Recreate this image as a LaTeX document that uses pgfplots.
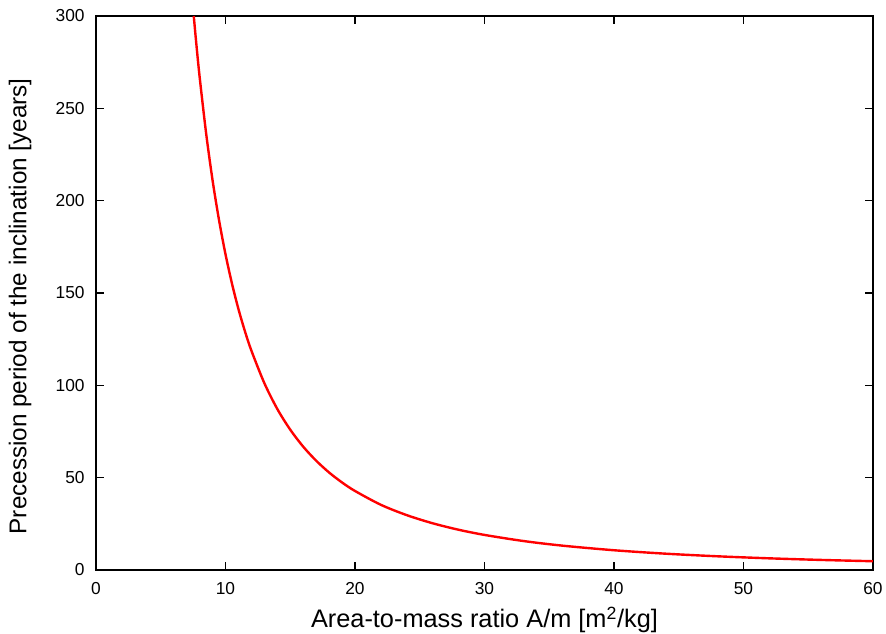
\documentclass[border=0pt]{standalone}
\usepackage{fontspec}
\setmainfont{Liberation Sans}
\usepackage{pgfplots}
\pgfplotsset{compat=1.18}
\begin{document}
\begin{tikzpicture}
\path[use as bounding box] (-72pt,-47.25pt) rectangle (592.5pt,427.5pt);
\begin{axis}[
  at={(0pt,0pt)}, anchor=south west,
  scale only axis, width=582.75pt, height=415.5pt,
  xmin=0, xmax=60, ymin=0, ymax=300,
  xtick={0,10,...,60}, ytick={0,50,...,300},
  tick align=inside, major tick length=6pt,
  axis line style={line width=0.9pt},
  every tick/.style={line width=0.8pt, black},
  /pgf/number format/assume math mode=true,
  tick label style={font=\fontsize{13}{15}\selectfont},
  yticklabel style={xshift=-5pt},
  xticklabel style={yshift=-6pt},
  xlabel={Area-to-mass ratio A/m [m\textsuperscript{2}/kg]},
  ylabel={Precession period of the inclination [years]},
  xlabel style={font=\fontsize{19}{22}\selectfont, at={(axis description cs:0.5,-0.09)}, anchor=center},
  ylabel style={font=\fontsize{18.2}{21}\selectfont, at={(axis description cs:-0.0978,0.476)}, anchor=center},
]
\addplot[red, line width=1.8pt, no marks, smooth] coordinates {
(7.55,300.0) (7.75,284.7) (8,267.2) (8.5,236.7) (9,211.1) (9.5,189.5)
(10,171.0) (10.5,155.1) (11,141.3) (11.5,129.3) (12,118.8) (13,101.2)
(14,87.2) (15,76.0) (16,66.8) (17,59.2) (18,52.8) (19,47.4) (20,42.8)
(22,35.3) (24,29.7) (26,25.3) (28,21.8) (30,19.0) (33,15.7) (36,13.2)
(40,10.7) (44,8.83) (48,7.42) (52,6.32) (56,5.45) (60,4.75)
};
\end{axis}
\end{tikzpicture}
\end{document}
